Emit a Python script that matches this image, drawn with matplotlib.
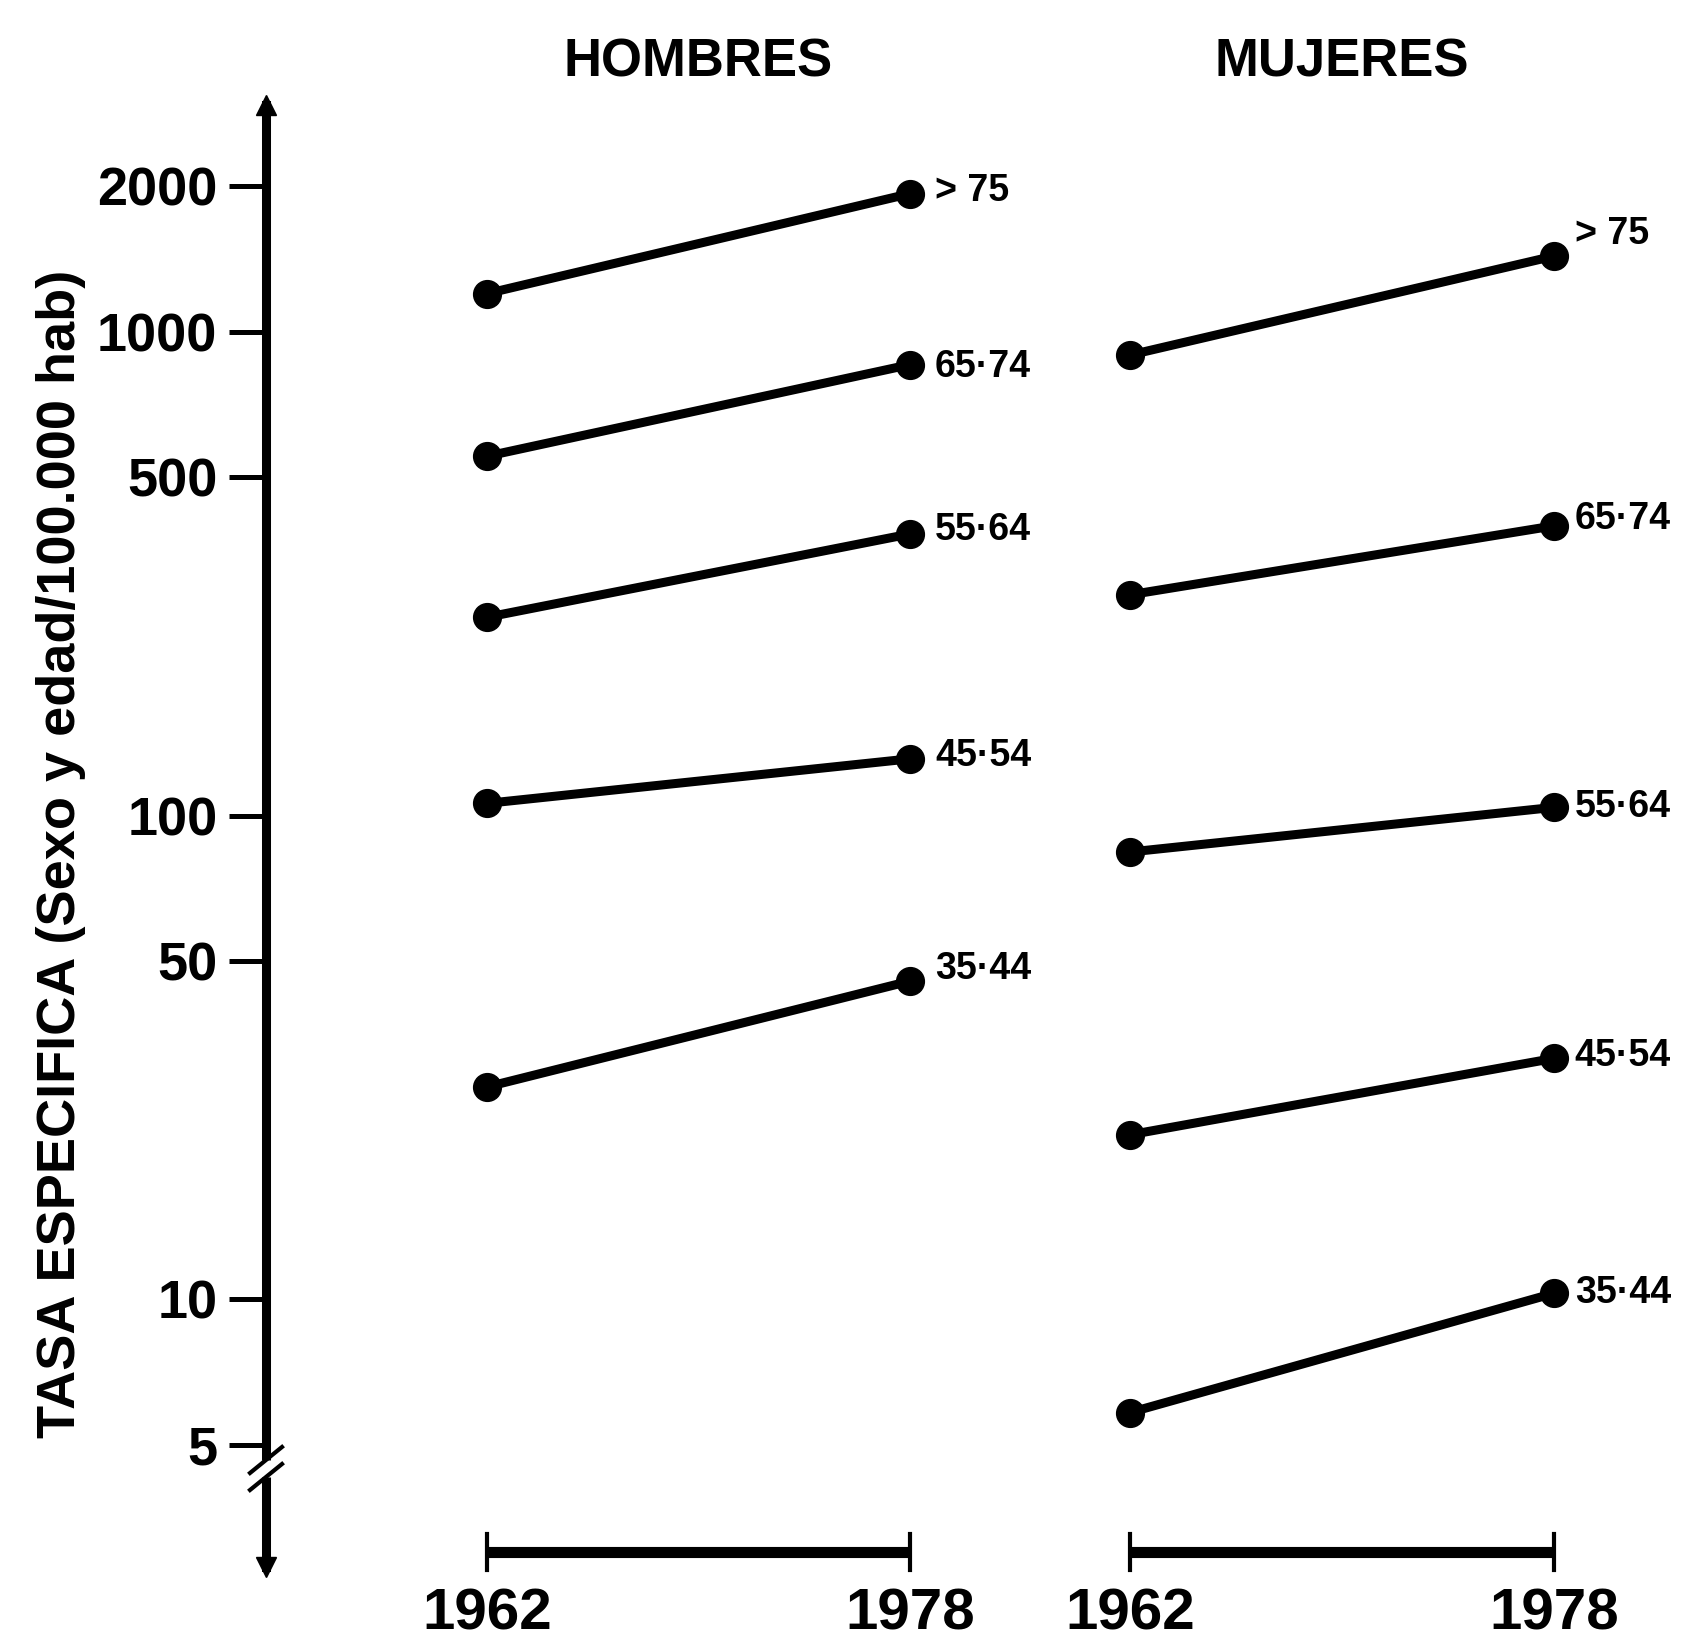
import numpy as np
import matplotlib.pyplot as plt
from matplotlib.ticker import NullLocator
from matplotlib.transforms import blended_transform_factory

plt.rcParams['font.family'] = ['Liberation Sans', 'DejaVu Sans']

# Data (rate per 100.000, log scale)
years = [1962, 1978]
age_groups = ['> 75', '65·74', '55·64', '45·54', '35·44']
hombres_1962 = [1199, 553, 257, 106, 27.5]
hombres_1978 = [1929, 855, 382, 131, 45.5]
mujeres_1962 = [895, 286, 84.1, 21.9, 5.84]
mujeres_1978 = [1433, 397, 104, 31.5, 10.3]
y_ticks = [5, 10, 50, 100, 500, 1000, 2000]
y_tick_labels = ['5', '10', '50', '100', '500', '1000', '2000']
titles = ['HOMBRES', 'MUJERES']
y_label = 'TASA ESPECIFICA (Sexo y edad/100.000 hab)'

# Figure size in pixels
W, H = 1687, 1647
top_px, bot_px = 105, 1567
ax_h_px = bot_px - top_px

fig = plt.figure(figsize=(W / 100, H / 100), dpi=100)


def make_panel(left_px, right_px, x62_px, x78_px):
    ax = fig.add_axes([left_px / W, 1 - bot_px / H,
                       (right_px - left_px) / W, ax_h_px / H])
    per_year = (x78_px - x62_px) / (years[1] - years[0])
    ax.set_xlim(years[0] - (x62_px - left_px) / per_year,
                years[0] + (right_px - x62_px) / per_year)
    ax.set_yscale('log')
    ax.set_ylim(2.80, 2941)
    ax.patch.set_visible(False)
    for s in ['top', 'right', 'bottom', 'left']:
        ax.spines[s].set_visible(False)
    ax.set_xticks([])
    ax.yaxis.set_minor_locator(NullLocator())
    ax.set_yticks([])
    return ax


ax_h = make_panel(266, 1000, 487, 910)
ax_m = make_panel(1000, 1687, 1130, 1554)

# Y axis drawn on the left panel
ax_h.spines['left'].set_visible(True)
ax_h.spines['left'].set_linewidth(6.5)
ax_h.set_yticks(y_ticks, labels=y_tick_labels)
ax_h.yaxis.set_minor_locator(NullLocator())
ax_h.tick_params(axis='y', length=27, width=3.6, pad=8, labelsize=39,
                 direction='out')
for lab in ax_h.get_yticklabels():
    lab.set_fontweight('bold')

# arrow heads at both ends of the axis
ax_h.plot([0], [1], marker='^', ms=15, color='k', transform=ax_h.transAxes,
          clip_on=False, zorder=5)
ax_h.plot([0], [0], marker='v', ms=15, color='k', transform=ax_h.transAxes,
          clip_on=False, zorder=5)

# axis break
ax_w_px = 1000 - 266
y_lo = (bot_px - 1477) / ax_h_px
y_hi = (bot_px - 1460) / ax_h_px
ax_h.plot([0, 0], [y_lo, y_hi], color='white', lw=12, transform=ax_h.transAxes,
          clip_on=False, zorder=6, solid_capstyle='butt')
for yc in [y_lo, y_hi]:
    ax_h.plot([-16 / ax_w_px, 16 / ax_w_px], [yc - 13 / ax_h_px, yc + 13 / ax_h_px],
              color='k', lw=3, transform=ax_h.transAxes, clip_on=False, zorder=7)

# label offsets (points)
h_dy = [2, -2, 3, 2, 9]
m_dy = [16, 5, 0, 2, 0]

panels = [(ax_h, hombres_1962, hombres_1978, h_dy, 18),
          (ax_m, mujeres_1962, mujeres_1978, m_dy, 15)]

for k, (ax, v62, v78, dys, dx) in enumerate(panels):
    for i, grp in enumerate(age_groups):
        ax.plot(years, [v62[i], v78[i]], color='k', lw=6.5, marker='o', ms=20,
                clip_on=False, zorder=3)
        ax.annotate(grp, xy=(years[1], v78[i]), xytext=(dx, dys[i]),
                    textcoords='offset points', ha='left', va='center',
                    fontsize=27, fontweight='bold')

    trans = blended_transform_factory(ax.transData, ax.transAxes)
    bar_y = (bot_px - 1552) / ax_h_px
    cap = 18 / ax_h_px
    ax.plot(years, [bar_y, bar_y], color='k', lw=8, transform=trans,
            clip_on=False, solid_capstyle='butt')
    for yr in years:
        ax.plot([yr, yr], [bar_y - cap, bar_y + cap], color='k', lw=3,
                transform=trans, clip_on=False)
        ax.text(yr, (bot_px - 1614) / ax_h_px, str(yr), transform=trans,
                ha='center', va='center', fontsize=42, fontweight='bold')

    ax.text(np.mean(years), 1 + (top_px - 62) / ax_h_px, titles[k],
            transform=trans, ha='center', va='center', fontsize=38,
            fontweight='bold')

fig.text(61 / W, 1 - 854 / H, y_label, rotation=90, ha='center', va='center',
         fontsize=39, fontweight='bold')

fig.savefig('out.png', dpi=100)
